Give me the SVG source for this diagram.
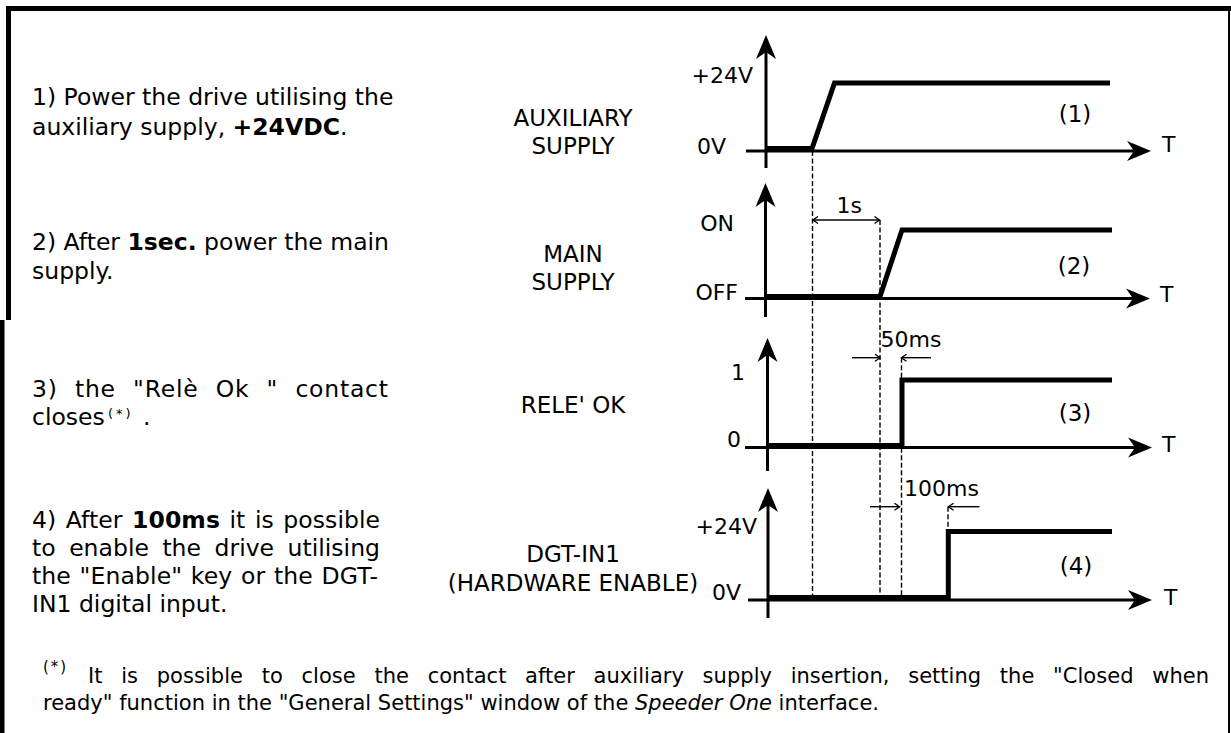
<svg xmlns="http://www.w3.org/2000/svg" xmlns:xlink="http://www.w3.org/1999/xlink" width="1231" height="733" viewBox="0 0 1231 733">
<style>
text { font-family: "DejaVu Sans", Verdana, sans-serif; fill: #000; }
.lt { font-size: 23.5px; }
.cl { font-size: 23px; text-anchor: middle; }
.vl { font-size: 22px; text-anchor: end; }
.tl { font-size: 22px; }
.nl { font-size: 23px; text-anchor: middle; }
.fn { font-size: 21px; }
.sup { font-size: 13px; letter-spacing: 3px; }
.ax { stroke: #000; stroke-width: 3; fill: none; }
.sig { stroke: #000; stroke-width: 5; fill: none; stroke-linejoin: miter; stroke-linecap: butt; }
.dash { stroke: #000; stroke-width: 1.4; stroke-dasharray: 5 2.5; fill: none; }
.dim { stroke: #000; stroke-width: 1.4; fill: none; }
.frame { fill: #000; }
</style>
<defs>
<path id="ahR" d="M0,0 L-24,-10 L-17,0 L-24,10 Z" fill="#000"/>
<path id="ahU" d="M0,0 L-10,24 L0,17 L10,24 Z" fill="#000"/>
<path id="dR" d="M-5,-3.5 L0,0 L-5,3.5" class="dim"/>
<path id="dL" d="M5,-3.5 L0,0 L5,3.5" class="dim"/>
</defs>
<rect width="1231" height="733" fill="#fff"/>
<g id="frame">
<rect class="frame" x="6" y="6" width="1225" height="5"/>
<rect class="frame" x="6" y="6" width="5" height="314"/>
<rect class="frame" x="0" y="320" width="4.5" height="413"/>
<rect class="frame" x="1228" y="11" width="2" height="722"/>
</g>
<g id="steps-text">
<text class="lt" x="32" y="105">1) Power the drive utilising the</text>
<text class="lt" x="32" y="134.5">auxiliary supply, <tspan font-weight="bold">+24VDC</tspan>.</text>
<text class="lt" x="32" y="250">2) After <tspan font-weight="bold">1sec.</tspan> power the main</text>
<text class="lt" x="32" y="279">supply.</text>
<text class="lt" x="32" y="397" word-spacing="9" textLength="356" lengthAdjust="spacing">3) the "Relè Ok " contact</text>
<text class="lt" x="32" y="425">closes</text>
<text class="sup" x="108" y="418">(*)</text>
<text class="lt" x="143" y="425">.</text>
<text class="lt" x="32" y="527.5" word-spacing="2" textLength="348" lengthAdjust="spacing">4) After <tspan font-weight="bold">100ms</tspan> it is possible</text>
<text class="lt" x="32" y="556" word-spacing="6" textLength="348" lengthAdjust="spacing">to enable the drive utilising</text>
<text class="lt" x="32" y="584" word-spacing="1" textLength="346" lengthAdjust="spacing">the "Enable" key or the DGT-</text>
<text class="lt" x="32" y="611.5">IN1 digital input.</text>
</g>
<g id="node-aux">
<text class="cl" x="573" y="126">AUXILIARY</text>
<text class="cl" x="573" y="153.5">SUPPLY</text>
<path class="ax" d="M766,168 V52"/>
<use xlink:href="#ahU" href="#ahU" transform="translate(766,35)"/>
<path class="ax" d="M746,151 H1134"/>
<use xlink:href="#ahR" href="#ahR" transform="translate(1151,151)"/>
<path class="sig" d="M766,148.5 H812 L834.5,83 H1110"/>
<text class="vl" x="753" y="83">+24V</text>
<text class="vl" x="726" y="153.5">0V</text>
<text class="tl" x="1162" y="152">T</text>
<text class="nl" x="1075" y="122">(1)</text>
</g>
<g id="node-main">
<text class="cl" x="573" y="262">MAIN</text>
<text class="cl" x="573" y="289.5">SUPPLY</text>
<path class="ax" d="M765.5,317 V200"/>
<use xlink:href="#ahU" href="#ahU" transform="translate(765.5,183)"/>
<path class="ax" d="M745,298.5 H1133"/>
<use xlink:href="#ahR" href="#ahR" transform="translate(1150,298.5)"/>
<path class="sig" d="M765.5,296.5 H880 L902,230 H1112"/>
<text class="vl" x="734" y="231">ON</text>
<text class="vl" x="738" y="299.5">OFF</text>
<text class="tl" x="1160" y="302">T</text>
<text class="nl" x="1074" y="274">(2)</text>
</g>
<g id="node-rele">
<text class="cl" x="573" y="413">RELE' OK</text>
<path class="ax" d="M767.5,471 V355"/>
<use xlink:href="#ahU" href="#ahU" transform="translate(767.5,338)"/>
<path class="ax" d="M745,447.5 H1135"/>
<use xlink:href="#ahR" href="#ahR" transform="translate(1152,447.5)"/>
<path class="sig" d="M767.5,445.5 H902 V380 H1112"/>
<text class="vl" x="745" y="380">1</text>
<text class="vl" x="741" y="447">0</text>
<text class="tl" x="1162" y="452">T</text>
<text class="nl" x="1075" y="421">(3)</text>
</g>
<g id="node-dgt">
<text class="cl" x="573" y="562">DGT-IN1</text>
<text class="cl" x="573" y="590.5">(HARDWARE ENABLE)</text>
<path class="ax" d="M768,618 V505"/>
<use xlink:href="#ahU" href="#ahU" transform="translate(768,488)"/>
<path class="ax" d="M748,600 H1135"/>
<use xlink:href="#ahR" href="#ahR" transform="translate(1152,600)"/>
<path class="sig" d="M768,597.5 H948.3 V531.5 H1112"/>
<text class="vl" x="757" y="533.5">+24V</text>
<text class="vl" x="741" y="600">0V</text>
<text class="tl" x="1164" y="605">T</text>
<text class="nl" x="1076" y="574">(4)</text>
</g>
<g id="connectors">
<path class="dash" d="M812.5,151 V600"/>
<path class="dash" d="M880,220 V600"/>
<path class="dash" d="M901.5,357.7 V600"/>
<path class="dash" d="M948,506.7 V531"/>
<path class="dim" d="M813,220 H879.5"/>
<use xlink:href="#dL" href="#dL" transform="translate(813,220)"/>
<use xlink:href="#dR" href="#dR" transform="translate(879.5,220)"/>
<path class="dim" d="M852,357.7 H880"/>
<use xlink:href="#dR" href="#dR" transform="translate(880,357.7)"/>
<path class="dim" d="M931,357.7 H901.5"/>
<use xlink:href="#dL" href="#dL" transform="translate(901.5,357.7)"/>
<path class="dim" d="M870,506.7 H899.5"/>
<use xlink:href="#dR" href="#dR" transform="translate(899.5,506.7)"/>
<path class="dim" d="M979.5,506.7 H948.5"/>
<use xlink:href="#dL" href="#dL" transform="translate(948.5,506.7)"/>
<text class="tl" x="836.5" y="213">1s</text>
<text class="tl" x="880.5" y="346.7">50ms</text>
<text class="tl" x="904" y="495.7">100ms</text>
</g>
<g id="footnote">
<text x="43" y="672" style="font-size:15px;letter-spacing:2px">(*)</text>
<text class="fn" x="88" y="683" word-spacing="12" textLength="1121" lengthAdjust="spacing">It is possible to close the contact after auxiliary supply insertion, setting the "Closed when</text>
<text class="fn" x="43" y="710" textLength="836" lengthAdjust="spacing">ready" function in the "General Settings" window of the <tspan font-style="italic">Speeder One</tspan> interface.</text>
</g>
</svg>
